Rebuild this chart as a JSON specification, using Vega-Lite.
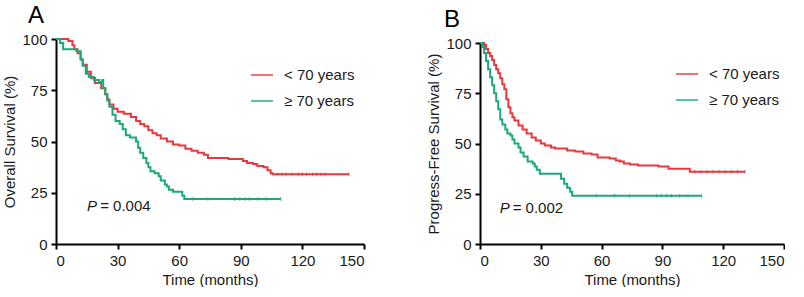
{
  "$schema": "https://vega.github.io/schema/vega-lite/v6.json",
  "background": "white",
  "padding": {"left": 2, "top": 4, "right": 0, "bottom": 0},
  "config": {
    "font": "Liberation Sans",
    "view": {"stroke": null},
    "axis": {
      "grid": false,
      "domainColor": "black",
      "domainWidth": 2,
      "tickColor": "black",
      "tickWidth": 2,
      "tickSize": 5,
      "labelFontSize": 15,
      "labelColor": "#1a1a1a",
      "labelPadding": 4,
      "titleFontSize": 15,
      "titleFontWeight": "normal",
      "titleColor": "#1a1a1a"
    },
    "legend": {
      "labelFontSize": 15,
      "labelColor": "#1a1a1a",
      "symbolType": "stroke",
      "symbolSize": 484,
      "symbolStrokeWidth": 2,
      "labelOffset": 10,
      "rowPadding": 6,
      "padding": 0,
      "title": null
    },
    "title": {"fontSize": 24, "fontWeight": "normal", "anchor": "start", "color": "black", "frame": "bounds", "offset": 4, "baseline": "top"}
  },
  "datasets": {
    "curves": [
      {"panel":"A","group":"< 70 years","t":0,"s":100},
      {"panel":"A","group":"< 70 years","t":6,"s":99},
      {"panel":"A","group":"< 70 years","t":8,"s":97},
      {"panel":"A","group":"< 70 years","t":9,"s":95},
      {"panel":"A","group":"< 70 years","t":10.5,"s":93},
      {"panel":"A","group":"< 70 years","t":12,"s":90},
      {"panel":"A","group":"< 70 years","t":13,"s":87.5},
      {"panel":"A","group":"< 70 years","t":15,"s":84},
      {"panel":"A","group":"< 70 years","t":17,"s":81},
      {"panel":"A","group":"< 70 years","t":19,"s":78.5},
      {"panel":"A","group":"< 70 years","t":22,"s":76},
      {"panel":"A","group":"< 70 years","t":24,"s":73},
      {"panel":"A","group":"< 70 years","t":25,"s":70.5},
      {"panel":"A","group":"< 70 years","t":26,"s":68},
      {"panel":"A","group":"< 70 years","t":28,"s":66},
      {"panel":"A","group":"< 70 years","t":30,"s":64.5},
      {"panel":"A","group":"< 70 years","t":33,"s":63.5},
      {"panel":"A","group":"< 70 years","t":36.5,"s":62},
      {"panel":"A","group":"< 70 years","t":39,"s":60},
      {"panel":"A","group":"< 70 years","t":41,"s":58.5},
      {"panel":"A","group":"< 70 years","t":43,"s":57.5},
      {"panel":"A","group":"< 70 years","t":45,"s":55.5},
      {"panel":"A","group":"< 70 years","t":47,"s":54},
      {"panel":"A","group":"< 70 years","t":49,"s":53},
      {"panel":"A","group":"< 70 years","t":51,"s":51.5},
      {"panel":"A","group":"< 70 years","t":54,"s":50},
      {"panel":"A","group":"< 70 years","t":57,"s":48.5},
      {"panel":"A","group":"< 70 years","t":60,"s":48},
      {"panel":"A","group":"< 70 years","t":63,"s":46.5},
      {"panel":"A","group":"< 70 years","t":66,"s":45.5},
      {"panel":"A","group":"< 70 years","t":69,"s":44.5},
      {"panel":"A","group":"< 70 years","t":72,"s":43.5},
      {"panel":"A","group":"< 70 years","t":74,"s":42},
      {"panel":"A","group":"< 70 years","t":80,"s":42},
      {"panel":"A","group":"< 70 years","t":84,"s":41.5},
      {"panel":"A","group":"< 70 years","t":91,"s":40.5},
      {"panel":"A","group":"< 70 years","t":93,"s":39.5},
      {"panel":"A","group":"< 70 years","t":96,"s":39},
      {"panel":"A","group":"< 70 years","t":98,"s":38},
      {"panel":"A","group":"< 70 years","t":101,"s":37.5},
      {"panel":"A","group":"< 70 years","t":103,"s":36},
      {"panel":"A","group":"< 70 years","t":104.5,"s":34.5},
      {"panel":"A","group":"< 70 years","t":105.5,"s":34},
      {"panel":"A","group":"< 70 years","t":142.7,"s":34},
      {"panel":"A","group":"≥ 70 years","t":0,"s":100},
      {"panel":"A","group":"≥ 70 years","t":2,"s":98},
      {"panel":"A","group":"≥ 70 years","t":3.5,"s":95},
      {"panel":"A","group":"≥ 70 years","t":10,"s":94},
      {"panel":"A","group":"≥ 70 years","t":12,"s":90},
      {"panel":"A","group":"≥ 70 years","t":13,"s":87},
      {"panel":"A","group":"≥ 70 years","t":14.5,"s":83},
      {"panel":"A","group":"≥ 70 years","t":16,"s":81.5},
      {"panel":"A","group":"≥ 70 years","t":18.5,"s":80},
      {"panel":"A","group":"≥ 70 years","t":21,"s":79},
      {"panel":"A","group":"≥ 70 years","t":22.5,"s":80},
      {"panel":"A","group":"≥ 70 years","t":23,"s":76},
      {"panel":"A","group":"≥ 70 years","t":24,"s":73},
      {"panel":"A","group":"≥ 70 years","t":25,"s":70},
      {"panel":"A","group":"≥ 70 years","t":26,"s":67},
      {"panel":"A","group":"≥ 70 years","t":27.5,"s":63},
      {"panel":"A","group":"≥ 70 years","t":29,"s":60},
      {"panel":"A","group":"≥ 70 years","t":31,"s":58.5},
      {"panel":"A","group":"≥ 70 years","t":32.5,"s":56},
      {"panel":"A","group":"≥ 70 years","t":34,"s":53},
      {"panel":"A","group":"≥ 70 years","t":36,"s":52},
      {"panel":"A","group":"≥ 70 years","t":39,"s":50},
      {"panel":"A","group":"≥ 70 years","t":40,"s":47},
      {"panel":"A","group":"≥ 70 years","t":41,"s":44.5},
      {"panel":"A","group":"≥ 70 years","t":42.5,"s":42},
      {"panel":"A","group":"≥ 70 years","t":44,"s":39.5},
      {"panel":"A","group":"≥ 70 years","t":45,"s":37.5},
      {"panel":"A","group":"≥ 70 years","t":46,"s":35.5},
      {"panel":"A","group":"≥ 70 years","t":48,"s":34.5},
      {"panel":"A","group":"≥ 70 years","t":50,"s":33},
      {"panel":"A","group":"≥ 70 years","t":51,"s":31},
      {"panel":"A","group":"≥ 70 years","t":53,"s":29},
      {"panel":"A","group":"≥ 70 years","t":54,"s":28},
      {"panel":"A","group":"≥ 70 years","t":55,"s":26.5},
      {"panel":"A","group":"≥ 70 years","t":57,"s":25.5},
      {"panel":"A","group":"≥ 70 years","t":61.5,"s":23.5},
      {"panel":"A","group":"≥ 70 years","t":62.5,"s":22},
      {"panel":"A","group":"≥ 70 years","t":109.5,"s":22},
      {"panel":"B","group":"< 70 years","t":0,"s":100},
      {"panel":"B","group":"< 70 years","t":2,"s":99},
      {"panel":"B","group":"< 70 years","t":3,"s":97},
      {"panel":"B","group":"< 70 years","t":4,"s":95},
      {"panel":"B","group":"< 70 years","t":5,"s":93.5},
      {"panel":"B","group":"< 70 years","t":6,"s":91.5},
      {"panel":"B","group":"< 70 years","t":7,"s":89},
      {"panel":"B","group":"< 70 years","t":8,"s":87},
      {"panel":"B","group":"< 70 years","t":9,"s":85},
      {"panel":"B","group":"< 70 years","t":10,"s":82.5},
      {"panel":"B","group":"< 70 years","t":11,"s":79.5},
      {"panel":"B","group":"< 70 years","t":12,"s":77},
      {"panel":"B","group":"< 70 years","t":13,"s":72},
      {"panel":"B","group":"< 70 years","t":14,"s":68},
      {"panel":"B","group":"< 70 years","t":15,"s":65},
      {"panel":"B","group":"< 70 years","t":16,"s":63},
      {"panel":"B","group":"< 70 years","t":17,"s":61.5},
      {"panel":"B","group":"< 70 years","t":19,"s":59},
      {"panel":"B","group":"< 70 years","t":21,"s":57},
      {"panel":"B","group":"< 70 years","t":23,"s":55},
      {"panel":"B","group":"< 70 years","t":25.5,"s":53},
      {"panel":"B","group":"< 70 years","t":27.5,"s":51.5},
      {"panel":"B","group":"< 70 years","t":30,"s":50},
      {"panel":"B","group":"< 70 years","t":32,"s":49},
      {"panel":"B","group":"< 70 years","t":35,"s":48},
      {"panel":"B","group":"< 70 years","t":37,"s":47.5},
      {"panel":"B","group":"< 70 years","t":43,"s":46.5},
      {"panel":"B","group":"< 70 years","t":47,"s":46},
      {"panel":"B","group":"< 70 years","t":51,"s":45},
      {"panel":"B","group":"< 70 years","t":55,"s":44.5},
      {"panel":"B","group":"< 70 years","t":58,"s":43},
      {"panel":"B","group":"< 70 years","t":64,"s":42.5},
      {"panel":"B","group":"< 70 years","t":67,"s":41.5},
      {"panel":"B","group":"< 70 years","t":69,"s":41},
      {"panel":"B","group":"< 70 years","t":71,"s":40},
      {"panel":"B","group":"< 70 years","t":74,"s":39.5},
      {"panel":"B","group":"< 70 years","t":78,"s":39},
      {"panel":"B","group":"< 70 years","t":88,"s":38.5},
      {"panel":"B","group":"< 70 years","t":93,"s":37.5},
      {"panel":"B","group":"< 70 years","t":103.5,"s":36},
      {"panel":"B","group":"< 70 years","t":130.8,"s":36},
      {"panel":"B","group":"≥ 70 years","t":0,"s":100},
      {"panel":"B","group":"≥ 70 years","t":1,"s":98},
      {"panel":"B","group":"≥ 70 years","t":2,"s":95},
      {"panel":"B","group":"≥ 70 years","t":3,"s":91},
      {"panel":"B","group":"≥ 70 years","t":4,"s":87},
      {"panel":"B","group":"≥ 70 years","t":5,"s":83},
      {"panel":"B","group":"≥ 70 years","t":6,"s":79},
      {"panel":"B","group":"≥ 70 years","t":7,"s":75},
      {"panel":"B","group":"≥ 70 years","t":8,"s":71},
      {"panel":"B","group":"≥ 70 years","t":9,"s":67},
      {"panel":"B","group":"≥ 70 years","t":10,"s":62},
      {"panel":"B","group":"≥ 70 years","t":11,"s":59.5},
      {"panel":"B","group":"≥ 70 years","t":12.5,"s":57},
      {"panel":"B","group":"≥ 70 years","t":13.5,"s":55},
      {"panel":"B","group":"≥ 70 years","t":15,"s":54},
      {"panel":"B","group":"≥ 70 years","t":16,"s":52},
      {"panel":"B","group":"≥ 70 years","t":17,"s":50},
      {"panel":"B","group":"≥ 70 years","t":19,"s":48},
      {"panel":"B","group":"≥ 70 years","t":20,"s":45.5},
      {"panel":"B","group":"≥ 70 years","t":21.5,"s":43.5},
      {"panel":"B","group":"≥ 70 years","t":23.5,"s":41},
      {"panel":"B","group":"≥ 70 years","t":26,"s":40},
      {"panel":"B","group":"≥ 70 years","t":27,"s":38.5},
      {"panel":"B","group":"≥ 70 years","t":28,"s":37},
      {"panel":"B","group":"≥ 70 years","t":29.5,"s":35},
      {"panel":"B","group":"≥ 70 years","t":38.5,"s":35},
      {"panel":"B","group":"≥ 70 years","t":40,"s":32.5},
      {"panel":"B","group":"≥ 70 years","t":41.5,"s":30},
      {"panel":"B","group":"≥ 70 years","t":43,"s":28},
      {"panel":"B","group":"≥ 70 years","t":44.5,"s":26},
      {"panel":"B","group":"≥ 70 years","t":45.5,"s":24},
      {"panel":"B","group":"≥ 70 years","t":109.4,"s":24}
    ],
    "censor": [
      {"panel":"A","group":"< 70 years","t":108,"s":34},
      {"panel":"A","group":"< 70 years","t":110,"s":34},
      {"panel":"A","group":"< 70 years","t":112,"s":34},
      {"panel":"A","group":"< 70 years","t":115,"s":34},
      {"panel":"A","group":"< 70 years","t":118,"s":34},
      {"panel":"A","group":"< 70 years","t":120,"s":34},
      {"panel":"A","group":"< 70 years","t":122,"s":34},
      {"panel":"A","group":"< 70 years","t":125,"s":34},
      {"panel":"A","group":"< 70 years","t":127,"s":34},
      {"panel":"A","group":"< 70 years","t":129,"s":34},
      {"panel":"A","group":"< 70 years","t":131,"s":34},
      {"panel":"A","group":"< 70 years","t":142.7,"s":34},
      {"panel":"A","group":"≥ 70 years","t":66.7,"s":22},
      {"panel":"A","group":"≥ 70 years","t":74,"s":22},
      {"panel":"A","group":"≥ 70 years","t":87,"s":22},
      {"panel":"A","group":"≥ 70 years","t":89.5,"s":22},
      {"panel":"A","group":"≥ 70 years","t":92,"s":22},
      {"panel":"A","group":"≥ 70 years","t":94.3,"s":22},
      {"panel":"A","group":"≥ 70 years","t":98.4,"s":22},
      {"panel":"A","group":"≥ 70 years","t":102.4,"s":22},
      {"panel":"A","group":"≥ 70 years","t":109.5,"s":22},
      {"panel":"B","group":"< 70 years","t":106,"s":36},
      {"panel":"B","group":"< 70 years","t":109,"s":36},
      {"panel":"B","group":"< 70 years","t":112,"s":36},
      {"panel":"B","group":"< 70 years","t":115,"s":36},
      {"panel":"B","group":"< 70 years","t":118,"s":36},
      {"panel":"B","group":"< 70 years","t":121,"s":36},
      {"panel":"B","group":"< 70 years","t":124,"s":36},
      {"panel":"B","group":"< 70 years","t":127,"s":36},
      {"panel":"B","group":"< 70 years","t":130.8,"s":36},
      {"panel":"B","group":"≥ 70 years","t":57.4,"s":24},
      {"panel":"B","group":"≥ 70 years","t":66.4,"s":24},
      {"panel":"B","group":"≥ 70 years","t":73.8,"s":24},
      {"panel":"B","group":"≥ 70 years","t":87,"s":24},
      {"panel":"B","group":"≥ 70 years","t":89.5,"s":24},
      {"panel":"B","group":"≥ 70 years","t":92,"s":24},
      {"panel":"B","group":"≥ 70 years","t":94.4,"s":24},
      {"panel":"B","group":"≥ 70 years","t":98.5,"s":24},
      {"panel":"B","group":"≥ 70 years","t":102.6,"s":24},
      {"panel":"B","group":"≥ 70 years","t":109.4,"s":24}
    ],
    "pvals": [
      {"panel":"A","t":15.1,"s":18.5,"label":"P","italic":true},
      {"panel":"A","t":21.5,"s":18.5,"label":"= 0.004","italic":false},
      {"panel":"B","t":9.7,"s":18,"label":"P","italic":true},
      {"panel":"B","t":16.1,"s":18,"label":"= 0.002","italic":false}
    ]
  },
  "resolve": {"legend": {"color": "independent"}},
  "spacing": 61,
  "hconcat": [
    {
      "width": 308,
      "height": 205,
      "title": {"text": "A", "dx": 25},
      "layer": [
        {
          "data": {"name": "curves"},
          "transform": [{"filter": "datum.panel === 'A'"}],
          "mark": {"type": "line", "interpolate": "step-after", "strokeWidth": 2},
          "encoding": {
            "x": {"field": "t", "type": "quantitative", "scale": {"domain": [0, 150], "nice": false}, "axis": {"values": [0,30,60,90,120,150], "title": "Time (months)"}},
            "y": {"field": "s", "type": "quantitative", "scale": {"domain": [0, 100], "nice": false}, "axis": {"values": [0,25,50,75,100], "title": "Overall Survival (%)", "titlePadding": 4}},
            "color": {"field": "group", "type": "nominal", "scale": {"domain": ["< 70 years", "≥ 70 years"], "range": ["#e8383d", "#19a97b"]}, "legend": {"orient": "none", "legendX": 194, "legendY": 24}}
          }
        },
        {
          "data": {"name": "censor"},
          "transform": [{"filter": "datum.panel === 'A'"}],
          "mark": {"type": "tick", "orient": "vertical", "size": 4, "thickness": 1},
          "encoding": {
            "x": {"field": "t", "type": "quantitative"},
            "y": {"field": "s", "type": "quantitative"},
            "color": {"field": "group", "type": "nominal"}
          }
        },
        {
          "data": {"name": "pvals"},
          "transform": [{"filter": "datum.panel === 'A' && datum.italic"}],
          "mark": {"type": "text", "align": "left", "baseline": "middle", "fontSize": 15, "fontStyle": "italic", "color": "#1a1a1a"},
          "encoding": {
            "x": {"field": "t", "type": "quantitative"},
            "y": {"field": "s", "type": "quantitative"},
            "text": {"field": "label"}
          }
        },
        {
          "data": {"name": "pvals"},
          "transform": [{"filter": "datum.panel === 'A' && !datum.italic"}],
          "mark": {"type": "text", "align": "left", "baseline": "middle", "fontSize": 15, "color": "#1a1a1a"},
          "encoding": {
            "x": {"field": "t", "type": "quantitative"},
            "y": {"field": "s", "type": "quantitative"},
            "text": {"field": "label"}
          }
        }
      ]
    },
    {
      "width": 304,
      "height": 205,
      "title": {"text": "B", "dx": 17},
      "layer": [
        {
          "data": {"name": "curves"},
          "transform": [{"filter": "datum.panel === 'B'"}],
          "mark": {"type": "line", "interpolate": "step-after", "strokeWidth": 2},
          "encoding": {
            "x": {"field": "t", "type": "quantitative", "scale": {"domain": [0, 150], "nice": false}, "axis": {"values": [0,30,60,90,120,150], "title": "Time (months)"}},
            "y": {"field": "s", "type": "quantitative", "scale": {"domain": [0, 100], "nice": false, "range": [205, 4]}, "axis": {"values": [0,25,50,75,100], "title": "Progress-Free Survival (%)", "titlePadding": 4}},
            "color": {"field": "group", "type": "nominal", "scale": {"domain": ["< 70 years", "≥ 70 years"], "range": ["#e8383d", "#19a97b"]}, "legend": {"orient": "none", "legendX": 195, "legendY": 23}}
          }
        },
        {
          "data": {"name": "censor"},
          "transform": [{"filter": "datum.panel === 'B'"}],
          "mark": {"type": "tick", "orient": "vertical", "size": 4, "thickness": 1},
          "encoding": {
            "x": {"field": "t", "type": "quantitative"},
            "y": {"field": "s", "type": "quantitative"},
            "color": {"field": "group", "type": "nominal"}
          }
        },
        {
          "data": {"name": "pvals"},
          "transform": [{"filter": "datum.panel === 'B' && datum.italic"}],
          "mark": {"type": "text", "align": "left", "baseline": "middle", "fontSize": 15, "fontStyle": "italic", "color": "#1a1a1a"},
          "encoding": {
            "x": {"field": "t", "type": "quantitative"},
            "y": {"field": "s", "type": "quantitative"},
            "text": {"field": "label"}
          }
        },
        {
          "data": {"name": "pvals"},
          "transform": [{"filter": "datum.panel === 'B' && !datum.italic"}],
          "mark": {"type": "text", "align": "left", "baseline": "middle", "fontSize": 15, "color": "#1a1a1a"},
          "encoding": {
            "x": {"field": "t", "type": "quantitative"},
            "y": {"field": "s", "type": "quantitative"},
            "text": {"field": "label"}
          }
        }
      ]
    }
  ]
}
